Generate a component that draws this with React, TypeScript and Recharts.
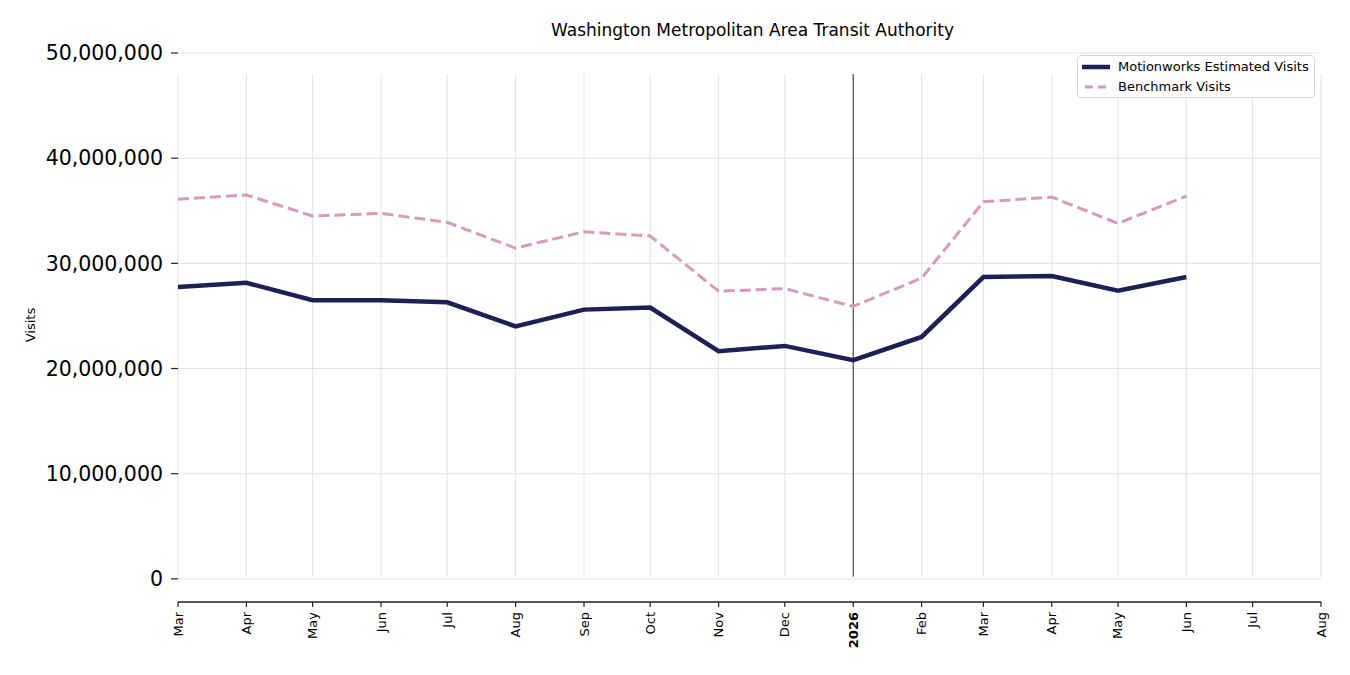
import { CartesianGrid, Line, LineChart, ReferenceLine, XAxis, YAxis } from 'recharts';

const months = [
  '2025-03', '2025-04', '2025-05', '2025-06', '2025-07', '2025-08', '2025-09', '2025-10',
  '2025-11', '2025-12', '2026-01', '2026-02', '2026-03', '2026-04', '2026-05', '2026-06',
];

const motionworks = [
  27.75, 28.15, 26.5, 26.48, 26.3, 24.0, 25.6, 25.8,
  21.65, 22.15, 20.8, 23.0, 28.7, 28.8, 27.4, 28.7,
].map((v) => v * 1e6);

const benchmark = [
  36.1, 36.5, 34.5, 34.75, 33.9, 31.45, 33.0, 32.6,
  27.35, 27.6, 25.9, 28.6, 35.85, 36.3, 33.8, 36.4,
].map((v) => v * 1e6);

const tickMonths = [
  '2025-03', '2025-04', '2025-05', '2025-06', '2025-07', '2025-08', '2025-09', '2025-10',
  '2025-11', '2025-12', '2026-01', '2026-02', '2026-03', '2026-04', '2026-05', '2026-06',
  '2026-07', '2026-08',
];
const monthNames = ['Jan', 'Feb', 'Mar', 'Apr', 'May', 'Jun', 'Jul', 'Aug', 'Sep', 'Oct', 'Nov', 'Dec'];
const yTicks = [0, 10e6, 20e6, 30e6, 40e6, 50e6];

const toTime = (m: string) => {
  const [y, mo] = m.split('-').map(Number);
  return Date.UTC(y, mo - 1, 1);
};

const data = months.map((m, i) => ({
  t: toTime(m),
  motionworks: motionworks[i],
  benchmark: benchmark[i],
}));

const xTicks = tickMonths.map(toTime);
const yearStart = toTime('2026-01');

const font = '"DejaVu Sans", sans-serif';

function MonthTick(props: any) {
  const { x, y, payload } = props;
  const d = new Date(payload.value);
  const isYear = d.getUTCMonth() === 0;
  const label = isYear ? String(d.getUTCFullYear()) : monthNames[d.getUTCMonth()];
  return (
    <text
      x={x}
      y={y}
      transform={`rotate(-90 ${x} ${y})`}
      textAnchor="end"
      dominantBaseline="central"
      fontSize={13}
      fontFamily={font}
      fontWeight={isYear ? 'bold' : 'normal'}
      fill="#000"
    >
      {label}
    </text>
  );
}

function LegendBox() {
  return (
    <div
      style={{
        position: 'absolute',
        left: 1077,
        top: 55,
        width: 238,
        height: 43,
        boxSizing: 'border-box',
        border: '1.5px solid #d6d6d6',
        borderRadius: 4,
        background: '#fff',
        padding: '1px 0 0 3px',
        fontFamily: font,
        fontSize: 13,
        color: '#000',
        lineHeight: '20px',
      }}
    >
      <div style={{ display: 'flex', alignItems: 'center' }}>
        <svg width={30} height={8} style={{ marginRight: 7 }}>
          <line x1={1} y1={4} x2={29} y2={4} stroke="#1e1f55" strokeWidth={4.5} />
        </svg>
        Motionworks Estimated Visits
      </div>
      <div style={{ display: 'flex', alignItems: 'center' }}>
        <svg width={30} height={8} style={{ marginRight: 7 }}>
          <line x1={4} y1={4} x2={29} y2={4} stroke="#d899bf" strokeWidth={3} strokeDasharray="8 5" />
        </svg>
        Benchmark Visits
      </div>
    </div>
  );
}

export default function App() {
  return (
    <div style={{ position: 'absolute', left: 0, top: 0, width: 1350, height: 675, background: '#fff' }}>
      <div
        style={{
          position: 'absolute',
          left: 0,
          width: 1505,
          top: 20,
          textAlign: 'center',
          fontFamily: font,
          fontSize: 17,
          color: '#000',
        }}
      >
        Washington Metropolitan Area Transit Authority
      </div>
      <div
        style={{
          position: 'absolute',
          left: 11,
          top: 316,
          width: 40,
          height: 18,
          transform: 'rotate(-90deg)',
          fontFamily: font,
          fontSize: 13,
          lineHeight: '18px',
          textAlign: 'center',
        }}
      >
        Visits
      </div>
      <LineChart
        width={1350}
        height={675}
        data={data}
        margin={{ top: 53, right: 29, bottom: 0, left: 0 }}
      >
        <CartesianGrid vertical={false} stroke="#dcdcdc" strokeWidth={0.8} />
        {xTicks.map((t) => (
          <ReferenceLine
            key={t}
            segment={[{ x: t, y: 48e6 }, { x: t, y: 0.2e6 }]}
            stroke={t === yearStart ? '#222' : '#dcdcdc'}
            strokeWidth={t === yearStart ? 1 : 0.8}
            ifOverflow="visible"
          />
        ))}
        <XAxis
          dataKey="t"
          type="number"
          scale="time"
          domain={[xTicks[0], xTicks[xTicks.length - 1]]}
          ticks={xTicks}
          interval={0}
          height={73}
          tick={<MonthTick />}
          tickSize={5}
          tickMargin={5}
          stroke="#222"
          axisLine={{ stroke: '#222', strokeWidth: 1.5 }}
          tickLine={{ stroke: '#222', strokeWidth: 1.2 }}
        />
        <YAxis
          type="number"
          domain={[-2.2e6, 50e6]}
          ticks={yTicks}
          width={178}
          axisLine={false}
          tickSize={7}
          tickMargin={8}
          tickLine={{ stroke: '#222', strokeWidth: 1.2 }}
          tickFormatter={(v: number) => v.toLocaleString('en-US')}
          tick={{ fontSize: 20.5, fontFamily: font, fill: '#000' }}
        />
        <Line
          type="linear"
          dataKey="benchmark"
          stroke="#d899bf"
          strokeWidth={3}
          strokeDasharray="11 5"
          dot={false}
          activeDot={false}
          isAnimationActive={false}
        />
        <Line
          type="linear"
          dataKey="motionworks"
          stroke="#1e1f55"
          strokeWidth={4.5}
          dot={false}
          activeDot={false}
          isAnimationActive={false}
        />
      </LineChart>
      <LegendBox />
    </div>
  );
}
